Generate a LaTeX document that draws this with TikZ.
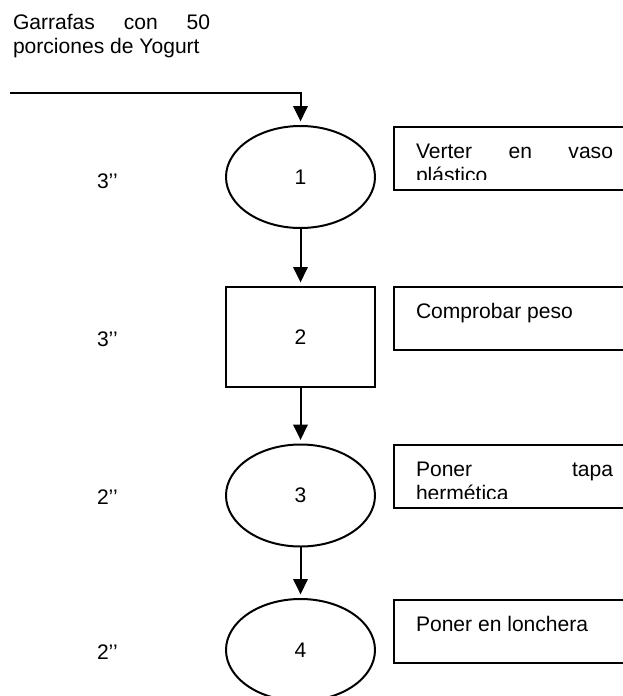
\documentclass[tikz,border=0pt]{standalone}
\usepackage{fontspec}
\setmainfont{Liberation Sans}
\usetikzlibrary{shapes.geometric,arrows.meta}
\begin{document}
\begin{tikzpicture}[x=0.75pt,y=-0.75pt,
  every node/.style={inner sep=0pt,outer sep=0pt,font=\fontsize{15.8pt}{18pt}\selectfont},
  oval/.style={draw,ellipse,line width=1.5pt,minimum width=111.75pt,minimum height=76.5pt},
  opbox/.style={draw,rectangle,line width=1.5pt,minimum width=111.75pt,minimum height=75pt},
  flow/.style={line width=1.5pt,shorten >=3.5pt,-{Triangle[width=11pt,length=11.5pt]}},
  sidebox/.style={draw,rectangle,line width=1.3pt,anchor=north west,minimum width=200pt,minimum height=47.25pt},
  txt/.style={anchor=base west},
  timelbl/.style={anchor=west},
]
\useasboundingbox (0,0) rectangle (623,696);
\clip (0,0) rectangle (623,696);

% heading text
\node[txt] (h1) at (13,29) {\makebox[147.75pt][s]{Garrafas con 50}};
\node[txt] (h2) at (13,53) {porciones de Yogurt};

% main flow nodes
\node[oval]  (e1) at (300.5,177) {\raisebox{-1.5pt}{1}};
\node[opbox] (r2) at (300.5,337) {2};
\node[oval]  (e3) at (300.5,495.5) {3};
\node[oval]  (e4) at (300.5,650) {4};

% connectors
\coordinate (start) at (10,93);
\draw[flow] (start) -- (start -| e1.north) -- (e1.north);
\draw[flow] (e1.south) -- (r2.north);
\draw[flow] (r2.south) -- (e3.north);
\draw[flow] (e3.south) -- (e4.north);

% time labels
\node[timelbl] (l1) at (97,181) {3’’};
\node[timelbl] (l2) at (97,339) {3’’};
\node[timelbl] (l3) at (97,497) {2’’};
\node[timelbl] (l4) at (97,652) {2’’};

% side boxes
\node[sidebox] (b1) at (394,127) {};
\node[sidebox] (b2) at (394,287) {};
\node[sidebox] (b3) at (394,445) {};
\node[sidebox] (b4) at (394,600) {};

\begin{scope}
  \clip (394,127) rectangle (623,179);
  \node[txt] (t1) at (416,158) {\makebox[147.75pt][s]{Verter en vaso}};
  \node[txt] (t1b) at (416,182.5) {plástico};
\end{scope}
\node[txt] (t2) at (416,318) {Comprobar peso};
\begin{scope}
  \clip (394,445) rectangle (623,498);
  \node[txt] (t3) at (416,476) {\makebox[147.75pt][s]{Poner tapa}};
  \node[txt] (t3b) at (416,500.5) {hermética};
\end{scope}
\node[txt] (t4) at (416,631) {Poner en lonchera};
\end{tikzpicture}
\end{document}
